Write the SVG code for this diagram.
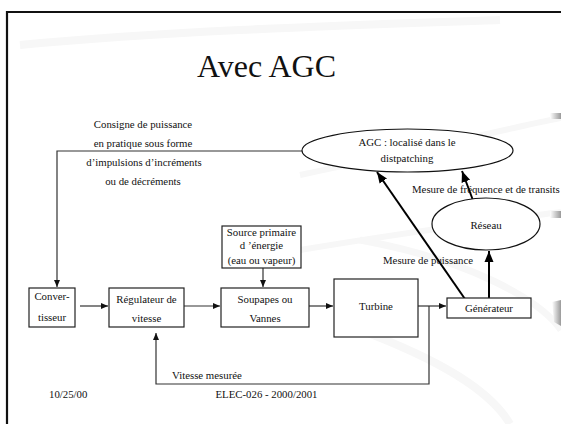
<svg xmlns="http://www.w3.org/2000/svg" width="561" height="424" viewBox="0 0 561 424" font-family="'Liberation Serif', serif">
<style>
text{font-family:'Liberation Serif',serif;fill:#111;font-size:10.8px;text-anchor:middle}
.title{font-size:32px}
.box{fill:#fff;stroke:#222;stroke-width:1.2}
.ln{fill:none;stroke:#333;stroke-width:1.2}
.thick{fill:none;stroke:#000;stroke-width:2}
.deco{fill:none;stroke:#f7f7f7}
</style>
<defs>
<marker id="a" markerUnits="userSpaceOnUse" markerWidth="8" markerHeight="8" viewBox="0 0 8 8" refX="7" refY="4" orient="auto"><path d="M0,1 L7,4 L0,7 Z" fill="#111"/></marker>
<marker id="b" markerUnits="userSpaceOnUse" markerWidth="12" markerHeight="12" viewBox="0 0 12 12" refX="11" refY="6" orient="auto"><path d="M0,1.5 L11,6 L0,10.5 Z" fill="#000"/></marker>
<linearGradient id="g" x1="0" x2="1"><stop offset="0" stop-color="#fff"/><stop offset="1" stop-color="#9a9a9a"/></linearGradient>
</defs>
<rect width="561" height="424" fill="#fff"/>
<g id="decor">
<path class="deco" stroke-width="8" d="M20,45 C180,30 360,25 500,20"/>
<path class="deco" stroke-width="6" d="M300,175 C420,150 500,130 561,118"/>
<path class="deco" stroke-width="6" d="M300,250 C420,230 500,220 561,212"/>
<path class="deco" stroke-width="7" d="M360,240 C470,260 540,300 561,330"/>
<path class="deco" stroke-width="8" d="M360,330 C440,360 490,390 510,424"/>
<rect x="550" y="113" width="11" height="6" fill="url(#g)"/>
<rect x="550" y="211" width="11" height="7" fill="url(#g)"/>
<path d="M552,302 L561,300 L561,326 L554,322 Z" fill="url(#g)"/>
</g>
<g id="frame"><path d="M561,12 L7,12 L7,424" fill="none" stroke="#111" stroke-width="2.2"/></g>
<text class="title" x="266.5" y="77">Avec AGC</text>
<g id="connectors">
<path class="ln" d="M303,151 L57,151 L57,287" marker-end="url(#a)"/>
<path class="ln" d="M80,306 L108,306" marker-end="url(#a)"/>
<path class="ln" d="M184,306 L220,306" marker-end="url(#a)"/>
<path class="ln" d="M263,268 L263,287" marker-end="url(#a)"/>
<path class="ln" d="M309,306 L333,306" marker-end="url(#a)"/>
<path class="ln" d="M418,306 L446,306" marker-end="url(#a)"/>
<path class="ln" stroke="#555" d="M429,306 L429,384 L156,384 L156,333" marker-end="url(#a)"/>
<path class="thick" d="M465,299 L377,172" marker-end="url(#b)"/>
<path class="thick" stroke-width="2.6" d="M489,298 L489,251" marker-end="url(#b)"/>
<path class="thick" d="M474,203 L462,171" marker-end="url(#b)"/>
</g>
<g id="labels">
<text x="143" y="128">Consigne de puissance</text>
<text x="143" y="147">en pratique sous forme</text>
<text x="144" y="166">d’impulsions d’incréments</text>
<text x="143" y="185">ou de décréments</text>
<text x="412" y="193" style="text-anchor:start">Mesure de fréquence et de transits</text>
<text x="428" y="264">Mesure de puissance</text>
<text x="172" y="379" style="text-anchor:start">Vitesse mesurée</text>
<text x="49" y="398" style="text-anchor:start">10/25/00</text>
<text x="266.5" y="398">ELEC-026 - 2000/2001</text>
</g>
<g id="agc"><ellipse cx="407.5" cy="150.5" rx="105.5" ry="21.5" fill="#fff" stroke="#111" stroke-width="1.2"/><text x="407" y="146">AGC : localisé dans le</text><text x="407" y="162">distpatching</text></g>
<g id="reseau"><ellipse cx="486" cy="224" rx="54" ry="26" fill="#fff" stroke="#111" stroke-width="1.2"/><text x="486" y="229">Réseau</text></g>
<g id="convertisseur"><rect class="box" x="29" y="288" width="46" height="39"/><text x="52" y="300">Conver-</text><text x="52" y="321">tisseur</text></g>
<g id="regulateur"><rect class="box" x="109" y="288" width="75" height="39"/><text x="146.5" y="303">Régulateur de</text><text x="146.5" y="322">vitesse</text></g>
<g id="source"><rect class="box" x="222" y="226" width="79" height="42"/><text x="261.5" y="236">Source primaire</text><text x="261.5" y="249">d ’énergie</text><text x="261.5" y="264">(eau ou vapeur)</text></g>
<g id="soupapes"><rect class="box" x="221" y="288" width="88" height="39"/><text x="265" y="303">Soupapes ou</text><text x="265" y="322">Vannes</text></g>
<g id="turbine"><rect class="box" x="334" y="279" width="84" height="58"/><text x="376" y="310">Turbine</text></g>
<g id="generateur"><rect class="box" x="447" y="298" width="84" height="20"/><text x="489" y="312">Générateur</text></g>
</svg>
